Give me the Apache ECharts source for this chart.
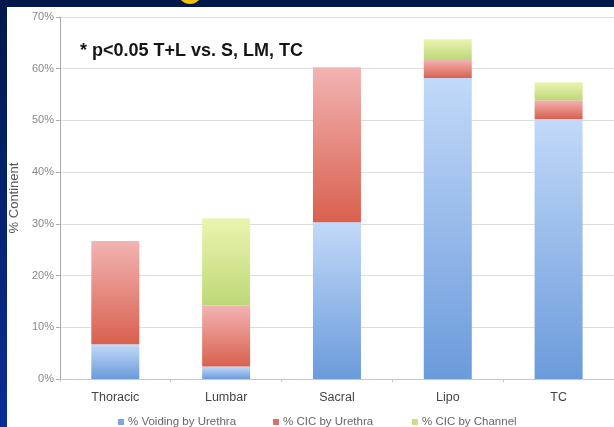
<!DOCTYPE html>
<html>
<head>
<meta charset="utf-8">
<script src="https://cdn.jsdelivr.net/npm/echarts@6/dist/echarts.min.js"></script>
<style>
  html, body { margin: 0; padding: 0; }
  #chart { width: 614px; height: 427px; }
</style>
</head>
<body>
<div id="chart"></div>
<script>
// Continence outcome by lesion level (stacked percentages)
const categories = ['Thoracic', 'Lumbar', 'Sacral', 'Lipo', 'TC'];
const voidingByUrethra = [6.7, 2.4, 30.3, 58.2, 50.3];
const cicByUrethra = [20.0, 11.8, 30.0, 3.5, 3.6];
const cicByChannel = [0, 16.9, 0, 4.0, 3.5];
const yTicks = [0, 10, 20, 30, 40, 50, 60, 70];
const seriesNames = ['% Voiding by Urethra', '% CIC by Urethra', '% CIC by Channel'];
const note = '* p<0.05 T+L vs. S, LM, TC';

const font = 'Liberation Sans, Arial, sans-serif';

function grad(top, bottom) {
  return new echarts.graphic.LinearGradient(0, 0, 0, 1, [
    { offset: 0, color: top },
    { offset: 1, color: bottom }
  ]);
}

const palette = [
  { top: '#c2d9f9', bottom: '#6b9bdb', swatch: '#7fa6e0' },
  { top: '#f2b4b2', bottom: '#d9604f', swatch: '#d9706a' },
  { top: '#ecf4b0', bottom: '#bdd877', swatch: '#c9df8e' }
];

const seriesData = [voidingByUrethra, cicByUrethra, cicByChannel];

const chart = echarts.init(document.getElementById('chart'), null, { renderer: 'canvas' });

const option = {
  animation: false,
  backgroundColor: grad('#00184a', '#0a2e98'),
  graphic: [
    {
      type: 'circle',
      shape: { cx: 190, cy: -8, r: 12 },
      style: { fill: '#f2c200' },
      z: 0
    },
    {
      type: 'rect',
      shape: { x: 7, y: 7, width: 607, height: 420 },
      style: { fill: '#ffffff' },
      z: 0
    },
    {
      type: 'text',
      x: 80,
      y: 51,
      style: {
        text: note,
        font: 'bold 18px ' + font,
        fill: '#151515',
        verticalAlign: 'middle'
      },
      z: 10
    }
  ],
  grid: { left: 56, right: -9, top: 17, bottom: 48, containLabel: false },
  legend: seriesNames.map((name, i) => ({
    data: [{ name: name, itemStyle: { color: palette[i].swatch } }],
    left: [113, 268, 407][i],
    top: 411,
    itemWidth: 6,
    itemHeight: 6,
    icon: 'rect',
    itemGap: 4,
    textStyle: { color: '#666', fontSize: 11.5, fontFamily: font, padding: [0, 0, 0, -1] }
  })),
  xAxis: {
    type: 'category',
    data: categories,
    axisLine: { lineStyle: { color: '#c8c8c8' } },
    axisTick: { show: true, alignWithLabel: false, length: 3, lineStyle: { color: '#c8c8c8' } },
    axisLabel: { color: '#444', fontSize: 12.5, fontFamily: font, margin: 12 }
  },
  yAxis: {
    type: 'value',
    min: yTicks[0],
    max: yTicks[yTicks.length - 1],
    interval: yTicks[1] - yTicks[0],
    name: '% Continent',
    nameLocation: 'middle',
    nameRotate: 90,
    nameGap: 33,
    nameTextStyle: { color: '#555', fontSize: 13, fontFamily: font },
    axisLine: { show: true, lineStyle: { color: '#aaa' } },
    axisTick: { show: true, length: 4, lineStyle: { color: '#aaa' } },
    axisLabel: { color: '#888', fontSize: 11, fontFamily: font, margin: 6, formatter: v => v + '%' },
    splitLine: { lineStyle: { color: '#dedede' } }
  },
  series: seriesNames.map((name, i) => ({
    name: name,
    type: 'bar',
    stack: 'total',
    barWidth: 48,
    data: seriesData[i],
    itemStyle: { color: grad(palette[i].top, palette[i].bottom) },
    emphasis: { disabled: true }
  }))
};

chart.setOption(option);
</script>
</body>
</html>
